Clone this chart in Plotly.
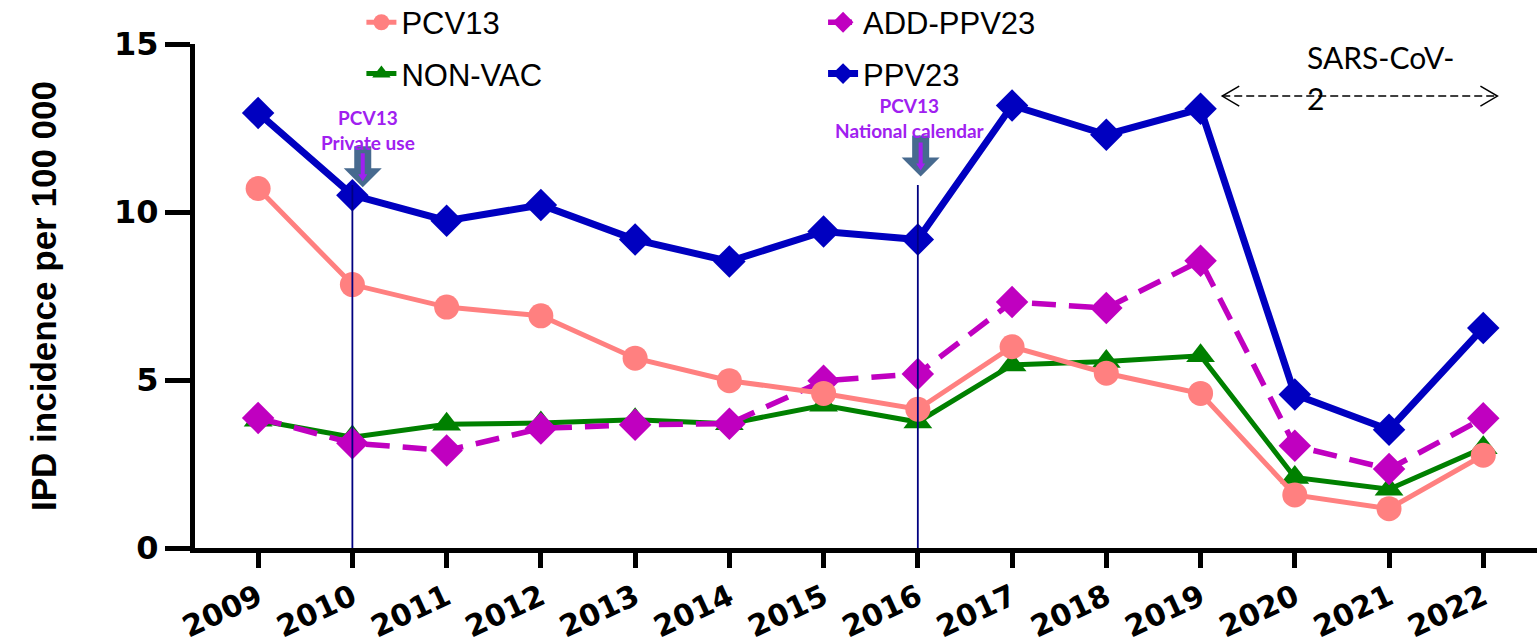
import plotly.graph_objects as go

# Invasive pneumococcal disease incidence by serotype group
years = list(range(2009, 2023))
year_labels = [str(y) for y in years]

pcv13 = [10.7, 7.84, 7.17, 6.91, 5.65, 4.98, 4.6, 4.13, 5.99, 5.2, 4.6, 1.58, 1.17, 2.76]
non_vac = [3.8, 3.3, 3.68, 3.72, 3.82, 3.7, 4.25, 3.75, 5.45, 5.55, 5.72, 2.1, 1.75, 2.98]
add_ppv23 = [3.87, 3.12, 2.9, 3.56, 3.67, 3.7, 4.98, 5.18, 7.32, 7.14, 8.55, 3.04, 2.35, 3.86]
ppv23 = [12.95, 10.5, 9.74, 10.21, 9.18, 8.53, 9.42, 9.18, 13.17, 12.3, 13.07, 4.57, 3.52, 6.55]

y_ticks = [0, 5, 10, 15]

# vaccine milestones: year, caption
milestones = [
    (2010, "PCV13<br>Private use"),
    (2016, "PCV13<br>National calendar"),
]
pandemic_start, pandemic_end = 2019.23, 2022.15

fig = go.Figure()

series = [
    # name, values, colour, width, dash, symbol, legend, rank
    ("NON-VAC", non_vac, "#008000", 5, "solid", "triangle-up", "legend", 3),
    ("ADD-PPV23", add_ppv23, "#C000C0", 5.5, "24px,13px", "diamond", "legend2", 2),
    ("PCV13", pcv13, "#FF8080", 5, "solid", "circle", "legend", 1),
    ("PPV23", ppv23, "#0000C0", 7, "solid", "diamond", "legend2", 4),
]
for name, vals, col, lw, dash, sym, leg, rank in series:
    fig.add_trace(go.Scatter(
        x=years, y=vals, name=name, mode="lines+markers",
        line=dict(color=col, width=lw, dash=dash),
        marker=dict(symbol=sym, size=25, color=col),
        legend=leg, legendgroup=name, legendrank=rank,
    ))

purple = "#A020F0"
arrow_fill = "#476A8F"

# milestone marker lines, arrows and captions
for yr, label in milestones:
    fig.add_shape(type="line", x0=yr, x1=yr, y0=0, y1=10.8, xref="x", yref="y",
                  line=dict(color="#000080", width=1.8), layer="above")

arrow_tips = [(2010.11, 10.74), (2016.03, 11.06)]
for ax, ay in arrow_tips:
    fig.add_shape(
        type="path", xref="x", yref="y", xsizemode="pixel", ysizemode="pixel",
        xanchor=ax, yanchor=ay,
        path="M 0 0 L -19 19 L -8.5 19 L -8.5 41 L 8.5 41 L 8.5 19 L 19 19 Z",
        fillcolor=arrow_fill, line=dict(width=0), layer="above",
    )
    fig.add_shape(
        type="path", xref="x", yref="y", xsizemode="pixel", ysizemode="pixel",
        xanchor=ax, yanchor=ay,
        path="M -2 34 L 2 34 L 2 13 L 4.5 13 L 0 6 L -4.5 13 L -2 13 Z",
        fillcolor=purple, line=dict(width=0), layer="above",
    )

caption_pos = [(2010.17, 12.44), (2015.92, 12.8)]
for (yr, label), (cx, cy) in zip(milestones, caption_pos):
    fig.add_annotation(x=cx, y=cy, xref="x", yref="y", text=label, showarrow=False,
                       font=dict(family="Lato", size=19, color=purple, weight="bold"),
                       align="center", xanchor="center", yanchor="middle")

# SARS-CoV-2 period
fig.add_shape(type="line", xref="x", yref="y", x0=pandemic_start, x1=pandemic_end,
              y0=13.45, y1=13.45, line=dict(color="black", width=1.5, dash="8px,4px"))
for end, d in [(pandemic_start, 1), (pandemic_end, -1)]:
    fig.add_shape(type="path", xref="x", yref="y", xsizemode="pixel", ysizemode="pixel",
                  xanchor=end, yanchor=13.45,
                  path=f"M {17*d} 10 L 0 0 L {17*d} -10",
                  line=dict(color="black", width=1.5))
fig.add_annotation(x=2020.11, y=14.6, xref="x", yref="y", text="SARS-CoV-",
                   showarrow=False, xanchor="left", yanchor="middle",
                   font=dict(family="Lato", size=30, color="black"))
fig.add_annotation(x=2020.11, y=13.4, xref="x", yref="y", text="2",
                   showarrow=False, xanchor="left", yanchor="middle",
                   font=dict(family="Lato", size=30, color="black"))

legend_style = dict(
    orientation="v", xanchor="left", yanchor="top", y=1.096,
    font=dict(family="Liberation Sans", size=31, color="black"),
    bgcolor="rgba(0,0,0,0)", tracegroupgap=8, itemsizing="trace",
)

fig.update_layout(
    width=1537, height=643,
    margin=dict(l=195, r=0, t=44, b=95, autoexpand=False),
    plot_bgcolor="white", paper_bgcolor="white",
    showlegend=True,
    legend=dict(x=0.124, **legend_style),
    legend2=dict(x=0.468, **legend_style),
    xaxis=dict(
        range=[2008.33, 2022.57], tickmode="array", tickvals=years, ticktext=year_labels,
        tickangle=-25, showgrid=False, zeroline=False, automargin=False,
        showline=True, linecolor="black", linewidth=5,
        ticks="outside", ticklen=15, tickwidth=5, tickcolor="black",
        tickfont=dict(family="DejaVu Sans", size=30, color="black", weight="bold"),
    ),
    yaxis=dict(
        range=[0, 15], tickmode="array", tickvals=y_ticks, showgrid=False, zeroline=False,
        automargin=False,
        showline=True, linecolor="black", linewidth=5,
        ticks="outside", ticklen=25, tickwidth=5, tickcolor="black",
        tickfont=dict(family="DejaVu Sans", size=32, color="black", weight="bold"),
        title=dict(text="IPD incidence per 100 000", standoff=48,
                   font=dict(family="Liberation Sans", size=35, color="black", weight="bold")),
    ),
)

fig.write_html("out.html")
